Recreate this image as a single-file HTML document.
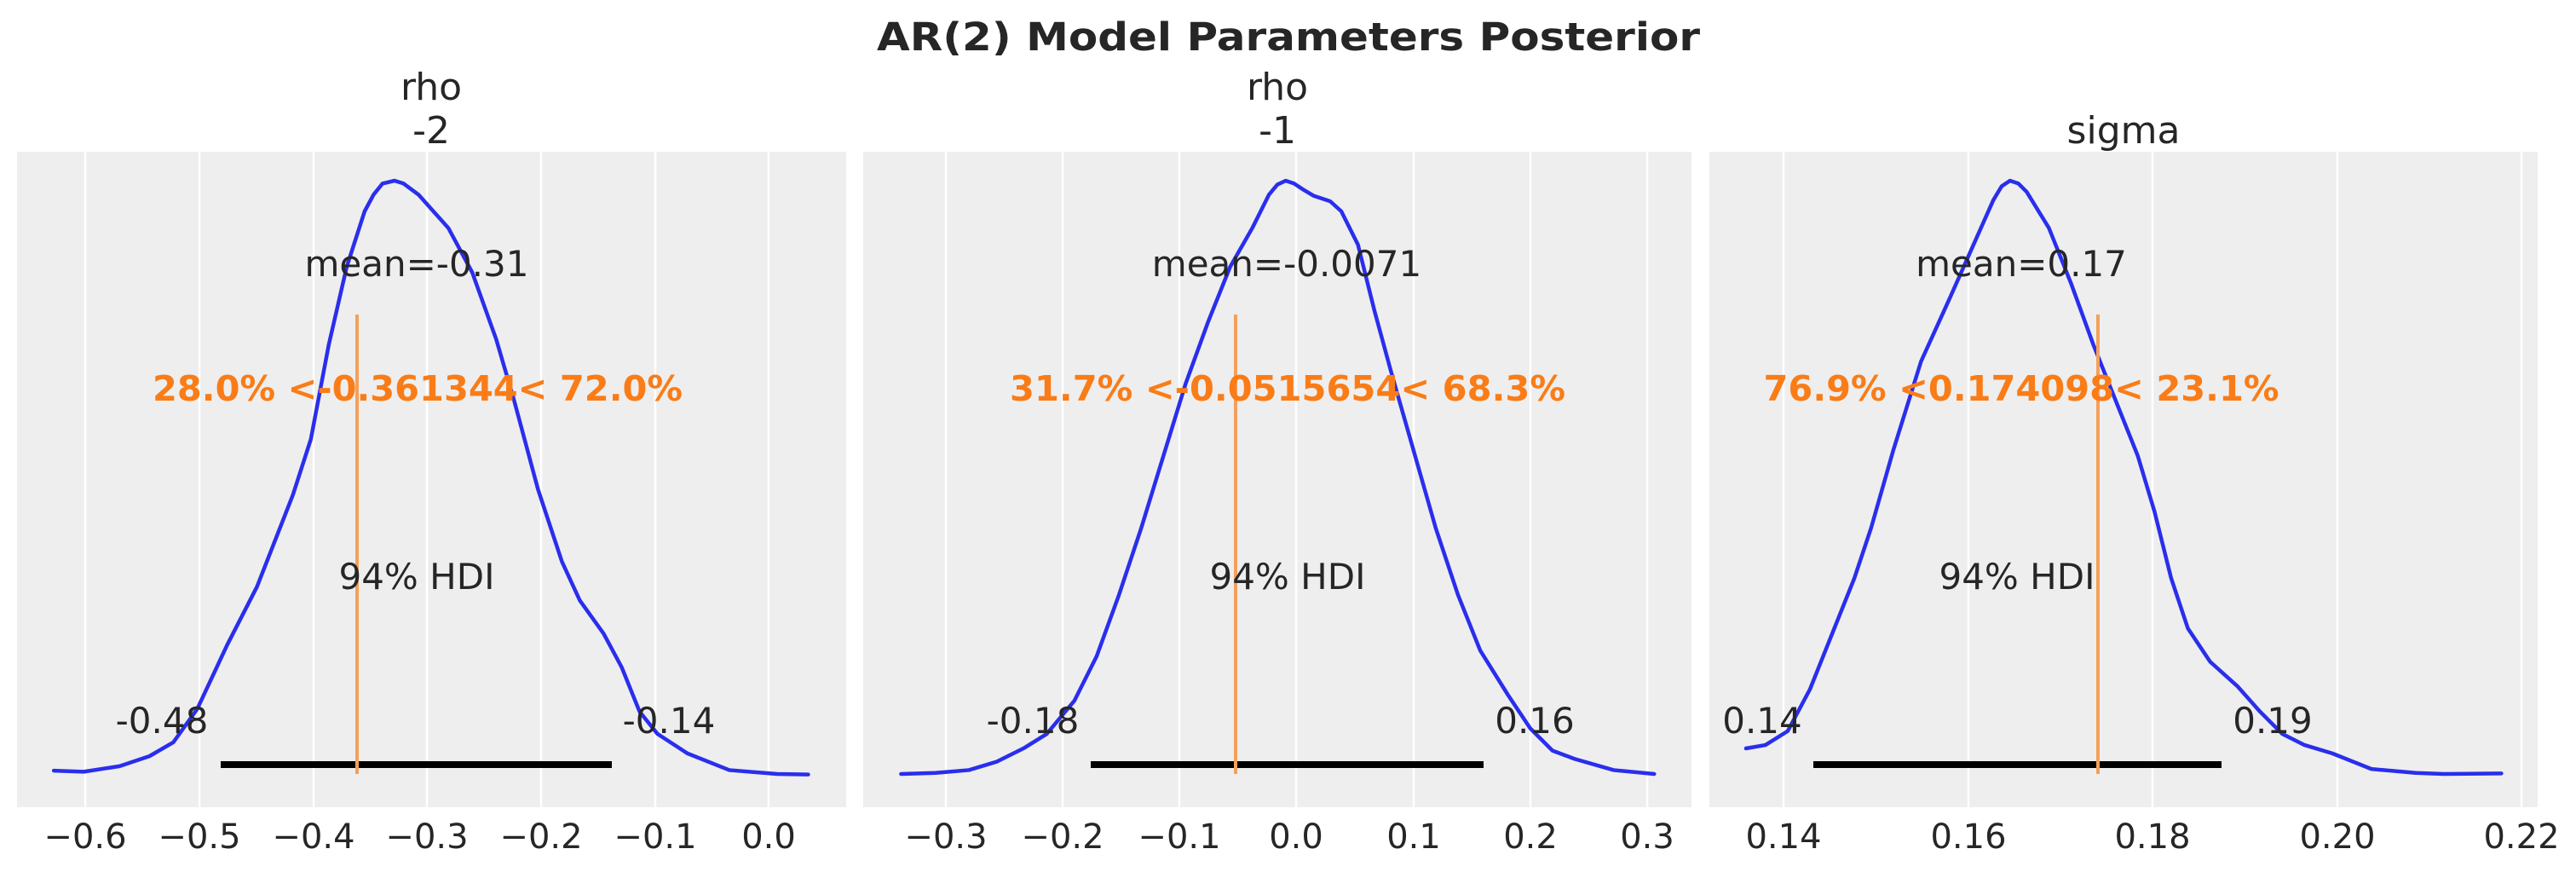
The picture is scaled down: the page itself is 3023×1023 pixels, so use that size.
<!DOCTYPE html>
<html><head><meta charset="utf-8"><style>
html,body{margin:0;padding:0;background:#fff;}
svg{display:block;}
text{font-family:"DejaVu Sans","Liberation Sans",sans-serif;fill:#262626;}
</style></head><body>
<svg width="3023" height="1023" viewBox="0 0 3023 1023" xmlns="http://www.w3.org/2000/svg">
<text x="1512" y="59" font-size="45" font-weight="bold" text-anchor="middle" textLength="966" lengthAdjust="spacingAndGlyphs">AR(2) Model Parameters Posterior</text>

<rect x="20" y="178" width="973" height="769" fill="#eeeeee"/>
<rect x="1013" y="178" width="972" height="769" fill="#eeeeee"/>
<rect x="2006" y="178" width="972" height="769" fill="#eeeeee"/>

<g stroke="#ffffff" stroke-width="2.5">
<line x1="100" y1="178" x2="100" y2="947"/><line x1="234" y1="178" x2="234" y2="947"/><line x1="368" y1="178" x2="368" y2="947"/><line x1="501" y1="178" x2="501" y2="947"/><line x1="635" y1="178" x2="635" y2="947"/><line x1="769" y1="178" x2="769" y2="947"/><line x1="902" y1="178" x2="902" y2="947"/>
<line x1="1110" y1="178" x2="1110" y2="947"/><line x1="1247" y1="178" x2="1247" y2="947"/><line x1="1384" y1="178" x2="1384" y2="947"/><line x1="1521" y1="178" x2="1521" y2="947"/><line x1="1659" y1="178" x2="1659" y2="947"/><line x1="1796" y1="178" x2="1796" y2="947"/><line x1="1933" y1="178" x2="1933" y2="947"/>
<line x1="2093" y1="178" x2="2093" y2="947"/><line x1="2310" y1="178" x2="2310" y2="947"/><line x1="2526" y1="178" x2="2526" y2="947"/><line x1="2743" y1="178" x2="2743" y2="947"/><line x1="2959" y1="178" x2="2959" y2="947"/>
</g>

<g font-size="40" text-anchor="middle">
<text x="100" y="995">−0.6</text><text x="234" y="995">−0.5</text><text x="368" y="995">−0.4</text><text x="501" y="995">−0.3</text><text x="635" y="995">−0.2</text><text x="769" y="995">−0.1</text><text x="902" y="995">0.0</text>
<text x="1110" y="995">−0.3</text><text x="1247" y="995">−0.2</text><text x="1384" y="995">−0.1</text><text x="1521" y="995">0.0</text><text x="1659" y="995">0.1</text><text x="1796" y="995">0.2</text><text x="1933" y="995">0.3</text>
<text x="2093" y="995">0.14</text><text x="2310" y="995">0.16</text><text x="2526" y="995">0.18</text><text x="2743" y="995">0.20</text><text x="2959" y="995">0.22</text>
</g>

<g font-size="44" text-anchor="middle">
<text x="506" y="117">rho</text><text x="506" y="168">-2</text>
<text x="1499" y="117">rho</text><text x="1499" y="168">-1</text>
<text x="2492" y="168">sigma</text>
</g>

<g fill="none" stroke="#2a2eec" stroke-width="4.5" stroke-linejoin="round" stroke-linecap="round">
<g transform="scale(0.7015,0.6523)">
<path vector-effect="non-scaling-stroke" d="M90,1386 L140,1388 L200,1378 L250,1360 L290,1335 L330,1275 L380,1160 L430,1055 L490,890 L520,790 L550,620 L580,480 L610,380 L625,350 L640,330 L660,325 L675,330 L700,350 L750,410 L790,490 L830,610 L860,720 L900,880 L940,1010 L970,1080 L1010,1140 L1040,1200 L1070,1280 L1100,1320 L1150,1355 L1220,1385 L1300,1392 L1352,1393"/>
</g>
<g transform="translate(1000,0) scale(0.6523)">
<path vector-effect="non-scaling-stroke" d="M88,1392 L150,1390 L210,1385 L260,1370 L310,1345 L350,1320 L400,1260 L440,1180 L480,1070 L520,950 L560,820 L600,690 L640,580 L680,480 L720,410 L750,350 L765,332 L780,325 L795,330 L810,340 L830,352 L860,362 L880,380 L910,440 L940,560 L970,670 L1010,810 L1050,950 L1090,1070 L1130,1170 L1180,1250 L1220,1310 L1260,1350 L1300,1365 L1370,1385 L1443,1392"/>
</g>
<g transform="translate(2000,0) scale(0.6523)">
<path vector-effect="non-scaling-stroke" d="M75,1346 L110,1340 L150,1315 L190,1240 L230,1140 L270,1040 L300,950 L340,810 L390,650 L440,540 L480,450 L520,360 L535,335 L550,325 L565,330 L580,345 L620,410 L660,510 L700,620 L740,720 L780,820 L810,920 L840,1040 L870,1130 L910,1190 L960,1235 L1000,1280 L1040,1320 L1080,1340 L1130,1355 L1200,1383 L1280,1390 L1330,1392 L1434,1391"/>
</g>
</g>

<g stroke="#000" stroke-width="8">
<line x1="259" y1="897" x2="718" y2="897"/>
<line x1="1280" y1="897" x2="1741" y2="897"/>
<line x1="2128" y1="897" x2="2607" y2="897"/>
</g>

<g stroke="#f4a05a" stroke-width="4">
<line x1="419" y1="369" x2="419" y2="908"/>
<line x1="1450" y1="369" x2="1450" y2="908"/>
<line x1="2462" y1="369" x2="2462" y2="908"/>
</g>

<g font-size="42" text-anchor="middle">
<text x="489" y="324">mean=-0.31</text>
<text x="1510" y="324">mean=-0.0071</text>
<text x="2372" y="324">mean=0.17</text>
<text x="489" y="691">94% HDI</text>
<text x="1511" y="691">94% HDI</text>
<text x="2367" y="691">94% HDI</text>
<text x="190" y="860">-0.48</text><text x="785" y="860">-0.14</text>
<text x="1212" y="860">-0.18</text><text x="1801" y="860">0.16</text>
<text x="2068" y="860">0.14</text><text x="2667" y="860">0.19</text>
</g>
<g font-size="41" font-weight="bold" text-anchor="middle">
<text x="490" y="470" style="fill:#fa7c17" textLength="622" lengthAdjust="spacingAndGlyphs">28.0% &lt;-0.361344&lt; 72.0%</text>
<text x="1511" y="470" style="fill:#fa7c17" textLength="652" lengthAdjust="spacingAndGlyphs">31.7% &lt;-0.0515654&lt; 68.3%</text>
<text x="2372" y="470" style="fill:#fa7c17" textLength="605" lengthAdjust="spacingAndGlyphs">76.9% &lt;0.174098&lt; 23.1%</text>
</g>
</svg>
</body></html>
